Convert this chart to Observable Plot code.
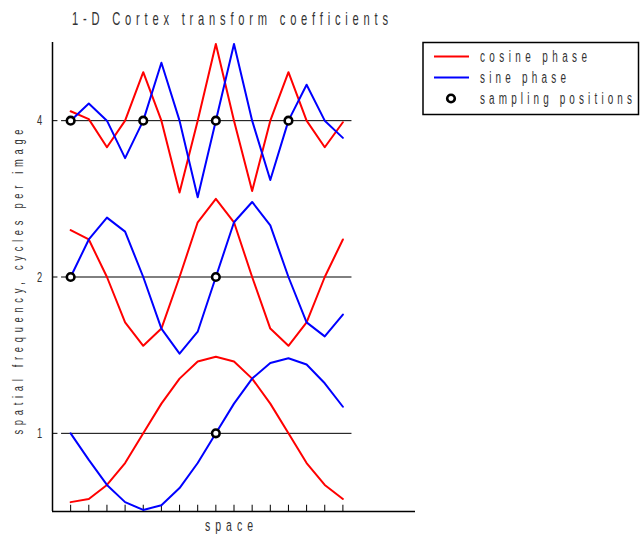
<!DOCTYPE html>
<html><head><meta charset="utf-8">
<script src="https://cdn.jsdelivr.net/npm/d3@7"></script>
<script src="https://cdn.jsdelivr.net/npm/@observablehq/plot@0.6"></script>
<style>
body{margin:0;background:#fff}
svg{display:block}
</style>
</head><body><div id="chart"></div>
<script>
// sample positions across space
const positions = [1,2,3,4,5,6,7,8,9,10,11,12,13,14,15,16];
// frequency levels (cycles per image) and their log2 positions
const levels = [1, 2, 4];
const levelLog = [0, 1, 2];
const levelLabels = ["1", "2", "4"];

// coefficient curves, in log2-frequency units (level + coefficient)
const cos1 = [-0.44,-0.42,-0.33,-0.19,0.00,0.19,0.35,0.46,0.49,0.46,0.35,0.19,0.00,-0.19,-0.33,-0.42];
const sin1 = [0.00,-0.17,-0.33,-0.44,-0.49,-0.46,-0.35,-0.19,0.00,0.19,0.35,0.45,0.48,0.44,0.32,0.17];
const cos2 = [1.30,1.24,1.00,0.71,0.56,0.67,1.00,1.35,1.50,1.35,1.00,0.67,0.56,0.71,1.00,1.24];
const sin2 = [1.00,1.24,1.38,1.29,1.00,0.67,0.51,0.65,1.00,1.35,1.48,1.33,1.00,0.71,0.62,0.76];
const cos4 = [2.06,2.01,1.83,2.00,2.31,2.00,1.54,2.00,2.49,2.00,1.55,2.00,2.31,2.00,1.83,1.99];
const sin4 = [2.00,2.11,2.00,1.76,2.00,2.37,2.00,1.51,2.00,2.49,2.00,1.62,2.00,2.23,2.00,1.89];

// sampling positions per level
const samp1 = [9];
const samp2 = [1, 9];
const samp4 = [1, 5, 9, 13];

const seriesNames = ["cosine phase", "sine phase", "sampling positions"];
const seriesColors = ["#ff0000", "#0000ff", "#000000"];

const curves = [
  {name: "cos", vals: cos1}, {name: "sin", vals: sin1},
  {name: "cos", vals: cos2}, {name: "sin", vals: sin2},
  {name: "cos", vals: cos4}, {name: "sin", vals: sin4}
];
const lineData = curves.flatMap((c, k) => c.vals.map((v, i) => ({x: positions[i], y: v, z: k, kind: c.name})));
const dotData = [
  ...samp1.map(x => ({x, y: levelLog[0]})),
  ...samp2.map(x => ({x, y: levelLog[1]})),
  ...samp4.map(x => ({x, y: levelLog[2]}))
];

const FONT = "'Liberation Sans',Arial,sans-serif";
const SX = 0.62; // horizontal compression of glyphs

const chart = Plot.plot({
  width: 640, height: 538,
  marginLeft: 52, marginRight: 225, marginTop: 42, marginBottom: 27,
  x: {domain: [0, 20], axis: null},
  y: {domain: [-0.5, 2.5], axis: null},
  style: {fontFamily: FONT, background: "white"},
  marks: [
    Plot.ruleY(levelLog, {x1: 0.5, x2: 16.5, stroke: "#000", strokeWidth: 1}),
    Plot.ruleY(levelLog, {x1: 0, x2: 0.3, stroke: "#000", strokeWidth: 1}),
    Plot.ruleX(positions, {y1: -0.5, y2: -0.46, stroke: "#000", strokeWidth: 1}),
    Plot.ruleX([0], {y1: -0.5, y2: 2.5, stroke: "#000", strokeWidth: 1.5}),
    Plot.ruleY([-0.5], {x1: 0, x2: 20, stroke: "#000", strokeWidth: 1.5}),
    Plot.line(lineData, {x: "x", y: "y", z: "z", stroke: d => d.kind === "cos" ? seriesColors[0] : seriesColors[1], strokeWidth: 2}),
    Plot.dot(dotData, {x: "x", y: "y", r: 3.8, stroke: "#000", strokeWidth: 2.6, fill: "white"}),
    Plot.text(levelLog, {x: 0, y: d => d, text: (d, i) => levelLabels[i], dx: -13, textAnchor: "middle", fontSize: 15, fill: "#333"})
  ]
});
document.getElementById("chart").appendChild(chart);
// compress tick label glyphs horizontally
d3.select(chart).selectAll("g[aria-label=text] text").each(function() {
  const t = d3.select(this);
  const tr = t.attr("transform") || "";
  t.attr("transform", tr + ` scale(${SX},1)`);
  if (t.attr("x") != null) t.attr("x", (+t.attr("x")) / SX);
});

const svg = d3.select(chart);
// narrow, widely spaced text (MATLAB look)
function stext(x, y, s, size, width, anchor, rot) {
  const g = svg.append("g").attr("transform", `translate(${x},${y}) rotate(${rot || 0}) scale(${SX},1)`);
  g.append("text").attr("x", 0).attr("y", 0)
    .attr("font-family", FONT).attr("font-size", size).attr("fill", "#333")
    .attr("text-anchor", anchor || "start")
    .attr("textLength", width / SX).attr("lengthAdjust", "spacing")
    .text(s);
}

stext(230, 25, "1-D Cortex transform coefficients", 18, 316, "middle");
stext(229, 531, "space", 17, 48, "middle");
stext(23, 282, "spatial frequency, cycles per image", 15, 305, "middle", -90);

// legend
const lg = svg.append("g");
lg.append("rect").attr("x", 423).attr("y", 42.5).attr("width", 215.5).attr("height", 72)
  .attr("fill", "white").attr("stroke", "#000").attr("stroke-width", 1.5);
const rows = [56.5, 77.5, 98.5];
[0, 1].forEach(i => lg.append("line").attr("x1", 434).attr("x2", 469).attr("y1", rows[i]).attr("y2", rows[i])
  .attr("stroke", seriesColors[i]).attr("stroke-width", 2));
lg.append("circle").attr("cx", 451).attr("cy", rows[2]).attr("r", 3.8).attr("fill", "white")
  .attr("stroke", "#000").attr("stroke-width", 2.6);
const legendWidths = [107, 86, 152];
seriesNames.forEach((s, i) => stext(480, rows[i] + 5, s, 16, legendWidths[i], "start"));
</script>
</body></html>
